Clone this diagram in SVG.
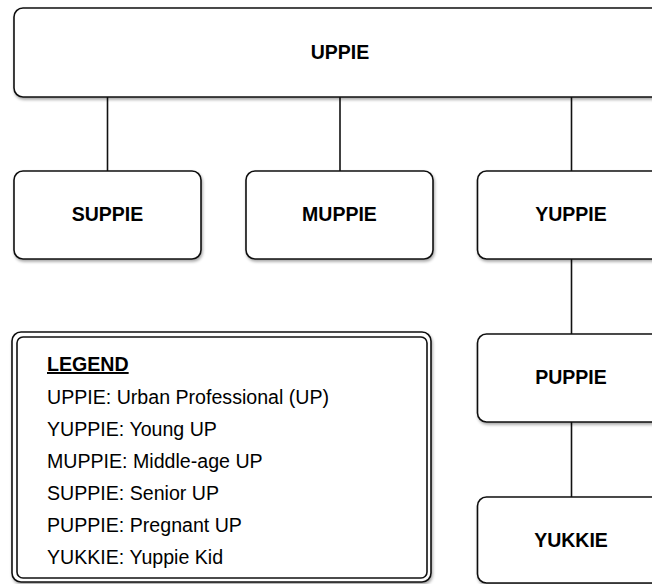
<svg xmlns="http://www.w3.org/2000/svg" width="652" height="584" viewBox="0 0 652 584">
  <defs>
    <filter id="sh" x="-10%" y="-10%" width="130%" height="140%">
      <feDropShadow dx="1" dy="2" stdDeviation="1.5" flood-color="#000" flood-opacity="0.35"/>
    </filter>
    <style>
      .box { fill: #fff; stroke: #111; stroke-width: 1.6; }
      .lbl { font-family: "Liberation Sans", Arial, sans-serif; font-weight: bold; font-size: 19.5px; fill: #000; text-anchor: middle; }
      .leg { font-family: "Liberation Sans", Arial, sans-serif; font-size: 19.6px; fill: #000; }
      .conn line { stroke: #111; stroke-width: 1.6; }
    </style>
  </defs>
  <rect width="652" height="584" fill="#fff"/>
  <g class="conn">
    <line x1="107.5" y1="97" x2="107.5" y2="171"/>
    <line x1="340" y1="97" x2="340" y2="171"/>
    <line x1="571.5" y1="97" x2="571.5" y2="171"/>
    <line x1="571.5" y1="259" x2="571.5" y2="334"/>
    <line x1="571.5" y1="422" x2="571.5" y2="497"/>
  </g>
  <g id="uppie">
    <rect class="box" x="14" y="8" width="652" height="89" rx="9" filter="url(#sh)"/>
    <text class="lbl" x="340" y="58.5">UPPIE</text>
  </g>
  <g id="suppie">
    <rect class="box" x="14" y="171" width="187" height="88" rx="9" filter="url(#sh)"/>
    <text class="lbl" x="107.5" y="221">SUPPIE</text>
  </g>
  <g id="muppie">
    <rect class="box" x="246" y="171" width="187" height="88" rx="9" filter="url(#sh)"/>
    <text class="lbl" x="339.5" y="221">MUPPIE</text>
  </g>
  <g id="yuppie">
    <rect class="box" x="477.5" y="171" width="187" height="88" rx="9" filter="url(#sh)"/>
    <text class="lbl" x="571" y="221">YUPPIE</text>
  </g>
  <g id="puppie">
    <rect class="box" x="477.5" y="334" width="187" height="88" rx="9" filter="url(#sh)"/>
    <text class="lbl" x="571" y="384">PUPPIE</text>
  </g>
  <g id="yukkie">
    <rect class="box" x="477.5" y="497" width="187" height="86" rx="9" filter="url(#sh)"/>
    <text class="lbl" x="571" y="547">YUKKIE</text>
  </g>
  <g id="legend">
    <rect class="box" x="12" y="332" width="419" height="250" rx="9" filter="url(#sh)"/>
    <rect x="17" y="337" width="410" height="241" rx="6" fill="none" stroke="#111" stroke-width="1.6"/>
    <text class="leg" x="47" y="371" font-weight="bold" text-decoration="underline">LEGEND</text>
    <text class="leg" x="47" y="404">UPPIE: Urban Professional (UP)</text>
    <text class="leg" x="47" y="436">YUPPIE: Young UP</text>
    <text class="leg" x="47" y="468">MUPPIE: Middle-age UP</text>
    <text class="leg" x="47" y="500">SUPPIE: Senior UP</text>
    <text class="leg" x="47" y="532">PUPPIE: Pregnant UP</text>
    <text class="leg" x="47" y="564">YUKKIE: Yuppie Kid</text>
  </g>
</svg>
